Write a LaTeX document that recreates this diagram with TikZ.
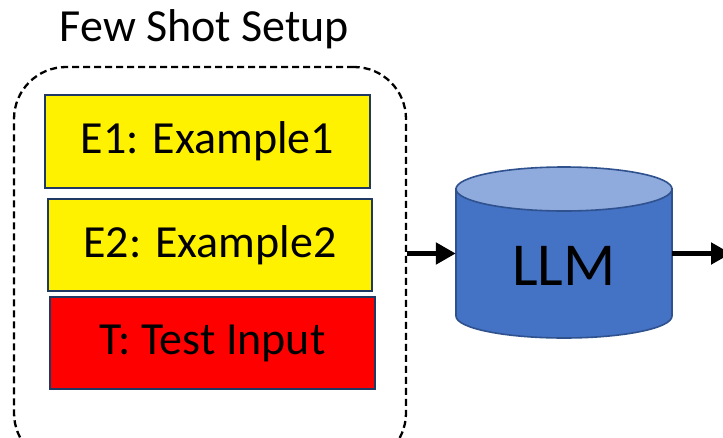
\documentclass[tikz,border=0pt]{standalone}
\usepackage{fontspec}
\setmainfont{Carlito}
\usetikzlibrary{arrows.meta}
\definecolor{boxline}{HTML}{1F3864}
\definecolor{cylbody}{HTML}{4472C4}
\definecolor{cyltop}{HTML}{8FAADC}
\definecolor{cylline}{HTML}{2F528F}
\tikzset{
  item/.style={draw=boxline, line width=1.6pt, inner sep=0pt,
    minimum width=325, minimum height=92,
    font=\fontsize{46}{50}\selectfont},
  group/.style={draw=black, line width=2.3pt, dash pattern=on 7pt off 4pt,
    rounded corners=52pt, minimum width=392, minimum height=398, inner sep=0pt},
  flow/.style={line width=5.5pt, -{Triangle[length=20pt,width=21pt]}}
}
\begin{document}
\begin{tikzpicture}[x=1pt,y=-1pt]
\useasboundingbox (0,0) rectangle (723,437);
\clip (0,0) rectangle (723,437);
\fill[white] (0,0) rectangle (723,437);

% title
\node[anchor=base, font=\fontsize{46}{50}\selectfont, inner sep=0pt] (title) at (204.5,41) {Few Shot Setup};

% dashed group of prompt parts
\node[group] (setup) at (210,266) {};

\node[item, fill=yellow, minimum height=93] (e1) at (207.5,141.5) {E1: Example1};
\node[item, fill=yellow, minimum width=324] (e2) at (210,245) {E2: Example2};
\node[item, fill=red] (t) at (212.5,343) {T: Test Input};

% model cylinder
\filldraw[fill=cylbody, draw=cylline, line width=1.6pt]
  (456,189) -- (456,316) arc[start angle=180, end angle=0, x radius=108, y radius=22]
  -- (672,189) -- cycle;
\filldraw[fill=cyltop, draw=cylline, line width=1.6pt] (564,189) ellipse[x radius=108, y radius=22];
\node[minimum width=216, minimum height=171, inner sep=0pt] (llm) at (564,253.5) {};
\node[anchor=base, font=\fontsize{61}{64}\selectfont, inner sep=0pt] (llmtext) at (564,285) {LLM};

% connectors
\coordinate (out) at (731,253.5);
\draw[flow] (setup.east |- llm.west) -- (llm.west);
\draw[flow] (llm.east) -- (out);
\end{tikzpicture}
\end{document}
